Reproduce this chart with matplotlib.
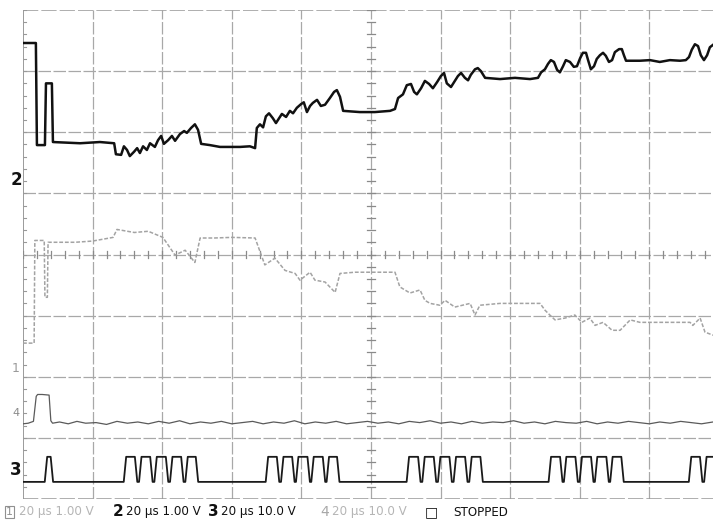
import matplotlib
matplotlib.use("Agg")
import matplotlib.pyplot as plt
import matplotlib.transforms as mtransforms

# ---------------- scope settings ----------------
TIME_PER_DIV = 20.0      # us / div
N_XDIV = 10
N_YDIV = 8
T_VISIBLE = 198.3        # right edge of the picture (screen is cut off)

channel_names = ["1", "2", "3", "4"]
channel_settings = ["20 µs 1.00 V", "20 µs 1.00 V", "20 µs 10.0 V", "20 µs 10.0 V"]
volts_per_div = {"1": 1.0, "2": 1.0, "3": 10.0, "4": 10.0}
ground_div = {"1": 2.14, "2": 5.25, "3": 0.31, "4": 1.33}
marker_div = {"1": 2.14, "2": 5.22, "3": 0.47, "4": 1.41}
status_text = "STOPPED"

# ---------------- channel 2 (volts) ----------------
ch2_t = [0.0, 3.7, 4.0, 6.3, 6.6, 8.3, 8.6, 16.4, 22.1, 26.2, 26.7, 28.2, 29.0, 29.9,
         30.7, 31.9, 32.8, 33.6, 34.5, 35.6, 36.5, 37.9, 38.8, 39.7, 40.5, 41.7, 42.8,
         43.7, 45.1, 46.3, 47.1, 48.3, 49.4, 50.3, 51.2, 53.7, 56.6, 59.5, 62.4, 65.2,
         66.7, 67.2, 68.1, 69.0, 69.8, 70.7, 71.8, 72.7, 73.6, 74.4, 75.6, 76.7, 77.6,
         78.7, 79.9, 80.7, 81.6, 82.5, 83.3, 84.5, 85.6, 86.8, 88.2, 89.4, 90.2, 91.1,
         92.0, 96.8, 101.1, 105.5, 106.9, 107.8, 109.2, 110.3, 111.5, 112.4, 113.2,
         114.4, 115.5, 116.7, 117.8, 119.0, 120.1, 121.0, 121.8, 123.0, 123.9, 125.0,
         125.9, 127.0, 127.9, 128.7, 129.9, 130.7, 131.6, 132.8, 137.1, 141.4, 145.7,
         148.0, 148.9, 150.0, 150.9, 151.7, 152.6, 153.5, 154.3, 155.2, 156.0, 157.2,
         158.3, 159.2, 160.1, 160.9, 161.8, 162.4, 163.2, 164.1, 164.9, 165.8, 166.7,
         167.5, 168.4, 169.3, 170.1, 171.3, 172.1, 172.7, 173.3, 177.3, 180.2, 183.0,
         185.9, 188.8, 190.5, 191.4, 192.2, 193.1, 194.0, 194.8, 195.7, 196.6, 197.4,
         198.3]
ch2_v = [2.21, 2.21, 0.54, 0.54, 1.55, 1.55, 0.59, 0.57, 0.59, 0.57, 0.39, 0.38, 0.52, 0.46,
         0.36, 0.43, 0.49, 0.41, 0.52, 0.46, 0.57, 0.51, 0.62, 0.69, 0.56, 0.62, 0.69,
         0.61, 0.72, 0.77, 0.74, 0.82, 0.88, 0.79, 0.56, 0.54, 0.51, 0.51, 0.51, 0.52,
         0.49, 0.82, 0.88, 0.83, 1.01, 1.06, 0.98, 0.90, 0.98, 1.05, 1.00, 1.10, 1.06,
         1.15, 1.21, 1.24, 1.08, 1.18, 1.23, 1.28, 1.18, 1.20, 1.31, 1.41, 1.44, 1.33,
         1.10, 1.08, 1.08, 1.10, 1.13, 1.31, 1.37, 1.52, 1.54, 1.41, 1.37,
         1.47, 1.59, 1.54, 1.47, 1.57, 1.67, 1.72, 1.55, 1.49, 1.57, 1.67,
         1.72, 1.64, 1.60, 1.69, 1.78, 1.80, 1.75, 1.64, 1.62, 1.64, 1.62,
         1.64, 1.73, 1.78, 1.87, 1.93, 1.90, 1.77, 1.73, 1.83, 1.93, 1.90,
         1.82, 1.83, 1.96, 2.05, 2.05, 1.93, 1.78, 1.83, 1.95, 2.01, 2.05,
         2.00, 1.90, 1.93, 2.06, 2.11, 2.11, 2.01, 1.92, 1.92, 1.93, 1.90,
         1.93, 1.92, 1.93, 1.98, 2.10, 2.19, 2.16, 2.01, 1.93, 2.01, 2.14,
         2.18]

# ---------------- channel 1 (volts) ----------------
ch1_t = [0.0, 3.2, 3.4, 6.1, 6.3, 7.0, 7.2, 15.0, 20.0, 25.9, 27.0, 32.0, 36.0, 40.2,
         43.7, 46.6, 49.4, 50.9, 55.0, 60.0, 66.7, 69.5, 72.4, 75.3, 78.2, 79.6, 82.5,
         83.9, 86.8, 89.7, 91.1, 95.4, 106.9, 108.3, 111.2, 114.1, 115.5, 117.0, 119.8,
         121.3, 124.1, 128.5, 129.9, 131.3, 137.1, 148.6, 150.0, 151.4, 152.9, 155.8,
         158.6, 160.6, 162.9, 164.4, 166.7, 169.3, 171.6, 174.5, 177.3, 191.7, 192.5,
         194.6, 196.0, 198.3]
ch1_v = [0.41, 0.41, 2.09, 2.09, 1.16, 1.16, 2.06, 2.06, 2.08, 2.14, 2.27, 2.22, 2.24, 2.14,
         1.85, 1.93, 1.73, 2.13, 2.13, 2.14, 2.13, 1.69, 1.80, 1.60, 1.55, 1.44, 1.57,
         1.44, 1.41, 1.24, 1.55, 1.57, 1.57, 1.33, 1.23, 1.28, 1.11, 1.06, 1.03,
         1.11, 1.00, 1.06, 0.87, 1.03, 1.06, 1.06, 0.95, 0.87, 0.79, 0.82,
         0.87, 0.75, 0.82, 0.70, 0.75, 0.62, 0.62, 0.79, 0.75, 0.75, 0.70,
         0.82, 0.59, 0.54]

# ---------------- channel 4 (volts) ----------------
ch4_t = [0.0, 1.5, 3.0, 3.8, 4.2, 5.5, 7.5, 8.0, 8.5, 10.5, 13.0, 15.5, 18.0,
         21.0, 24.0, 27.0, 30.0, 33.0, 36.0, 39.0, 42.0, 45.0, 48.0, 51.0, 54.0, 57.0,
         60.0, 63.0, 66.0, 69.0, 72.0, 75.0, 78.0, 81.0, 84.0, 87.0, 90.0, 93.0, 96.0,
         99.0, 102.0, 105.0, 108.0, 111.0, 114.0, 117.0, 120.0, 123.0, 126.0, 129.0,
         132.0, 135.0, 138.0, 141.0, 144.0, 147.0, 150.0, 153.0, 156.0, 159.0, 162.0,
         165.0, 168.0, 171.0, 174.0, 177.0, 180.0, 183.0, 186.0, 189.0, 192.0, 195.0,
         198.3]
ch4_v = [-1.0, -0.9, -0.6, 3.5, 3.8, 3.8, 3.7, -0.5, -0.9, -0.7, -1.0, -0.6, -0.9,
         -0.8, -1.1, -0.6, -0.9, -0.7, -1.0, -0.6, -0.9, -0.5, -1.0, -0.7, -0.9, -0.6,
         -1.0, -0.8, -0.6, -1.0, -0.7, -0.9, -0.5, -1.0, -0.7, -0.9, -0.6, -1.0, -0.8,
         -0.6, -0.9, -0.7, -1.0, -0.6, -0.8, -0.5, -0.9, -0.7, -1.0, -0.6,
         -0.9, -0.7, -0.8, -0.5, -0.9, -0.7, -1.0, -0.6, -0.8, -0.9, -0.6,
         -1.0, -0.7, -0.9, -0.6, -0.8, -1.0, -0.7, -0.9, -0.6, -0.8, -1.0,
         -0.7]

# ---------------- channel 3 (digital pulses, us) ----------------
ch3_low = -0.3
ch3_high = 3.8
ch3_rise = [6.6, 29.3, 33.7, 38.1, 42.6, 47.0, 70.1, 74.5, 78.8, 83.2, 87.6,
            110.6, 115.1, 119.6, 124.1, 128.6, 151.4, 155.8, 160.3, 164.7, 169.1,
            191.7, 196.1]
ch3_fall = [8.3, 32.5, 36.9, 41.4, 45.8, 50.0, 73.3, 77.7, 82.1, 86.5, 90.6,
            113.9, 118.4, 122.9, 127.4, 131.8, 154.7, 159.1, 163.6, 168.0, 172.3,
            194.9, 199.5]

# ---------------- figure ----------------
W, H = 713, 528
fig = plt.figure(figsize=(W / 100, H / 100), dpi=100)
fig.patch.set_facecolor("white")
ax = fig.add_axes([23 / W, 29 / H, (W - 23) / W, 489 / H])
ax.set_xlim(0, T_VISIBLE)
ax.set_ylim(0, N_YDIV)
ax.axis("off")

grid_col = "#a8a8a8"
for i in range(N_XDIV):
    x = i * TIME_PER_DIV
    if i == 0:
        ax.axvline(x, color="#808080", lw=1.1, zorder=1)
    else:
        ax.axvline(x, color=grid_col, lw=0.9, ls=(0, (10, 2)), zorder=1)
for j in range(N_YDIV + 1):
    ax.axhline(j, color=grid_col if 0 < j < N_YDIV else "#999999",
               lw=0.9 if 0 < j < N_YDIV else 1.1, ls=(0, (10, 2)), zorder=1)

# minor ticks on centre lines and left edge
tick_len_y = 0.05
tick_len_t = 1.1
for k in range(N_XDIV * 5 + 1):
    tx = k * TIME_PER_DIV / 5
    if tx <= T_VISIBLE:
        ax.plot([tx, tx], [N_YDIV / 2 - tick_len_y, N_YDIV / 2 + tick_len_y],
                color="#8a8a8a", lw=0.9, zorder=1)
for k in range(N_YDIV * 5 + 1):
    ty = k / 5
    ax.plot([5 * TIME_PER_DIV - tick_len_t, 5 * TIME_PER_DIV + tick_len_t], [ty, ty],
            color="#8a8a8a", lw=0.9, zorder=1)
    ax.plot([0, tick_len_t * 0.8], [ty, ty], color="#999999", lw=0.8, zorder=1)


def to_div(ch, values):
    return [ground_div[ch] + v / volts_per_div[ch] for v in values]


# channel 1 (faint, dotted look)
ax.plot(ch1_t, to_div("1", ch1_v), color="#a3a3a3", lw=1.1, ls=(0, (2.5, 1.2)), zorder=2)
# channel 4
ax.plot(ch4_t, to_div("4", ch4_v), color="#5a5a5a", lw=0.9, zorder=2)
# channel 2 (bold)
ax.plot(ch2_t, to_div("2", ch2_v), color="#111111", lw=1.8, solid_joinstyle="round", zorder=3)

# channel 3 waveform from edges
edge = 0.35
t3, v3 = [0.0], [ch3_low]
for r, f in zip(ch3_rise, ch3_fall):
    t3 += [r - edge, r + edge, f - edge, f + edge]
    v3 += [ch3_low, ch3_high, ch3_high, ch3_low]
t3.append(T_VISIBLE + 5)
v3.append(ch3_low)
ax.plot(t3, to_div("3", v3), color="#1a1a1a", lw=1.3, solid_joinstyle="round", zorder=3)

# ground markers at left
blend = mtransforms.blended_transform_factory(fig.transFigure, ax.transData)
marker_style = {
    "2": dict(color="#111111", fontsize=12, fontweight="bold"),
    "1": dict(color="#9a9a9a", fontsize=9),
    "4": dict(color="#8a8a8a", fontsize=8),
    "3": dict(color="#111111", fontsize=12, fontweight="bold"),
}
for ch in ["2", "1", "4", "3"]:
    ax.text(16 / W, marker_div[ch], ch, transform=blend, ha="center", va="center",
            clip_on=False, **marker_style[ch])

# status line at bottom
ty = (H - 512) / H
def fx(px):
    return px / W

fs = 8.6
fig.text(fx(6), ty, "1", fontsize=8, color="#909090", va="center", ha="left",
         bbox=dict(boxstyle="square,pad=0.1", fc="none", ec="#909090", lw=0.8))
fig.text(fx(19), ty, channel_settings[0], fontsize=fs, color="#b5b5b5", va="center")
fig.text(fx(113), ty, channel_names[1], fontsize=11, fontweight="bold", color="#111111", va="center")
fig.text(fx(126), ty, channel_settings[1], fontsize=fs, color="#111111", va="center")
fig.text(fx(208), ty, channel_names[2], fontsize=11, fontweight="bold", color="#111111", va="center")
fig.text(fx(221), ty, channel_settings[2], fontsize=fs, color="#111111", va="center")
fig.text(fx(320), ty, channel_names[3], fontsize=10, color="#a8a8a8", va="center")
fig.text(fx(332), ty, channel_settings[3], fontsize=fs, color="#b5b5b5", va="center")
fig.text(fx(425), ty, "□", fontsize=10, color="#111111", va="center")
fig.text(fx(453), ty, status_text, fontsize=fs, color="#111111", va="center")

fig.savefig("out.png", dpi=100, facecolor="white")
